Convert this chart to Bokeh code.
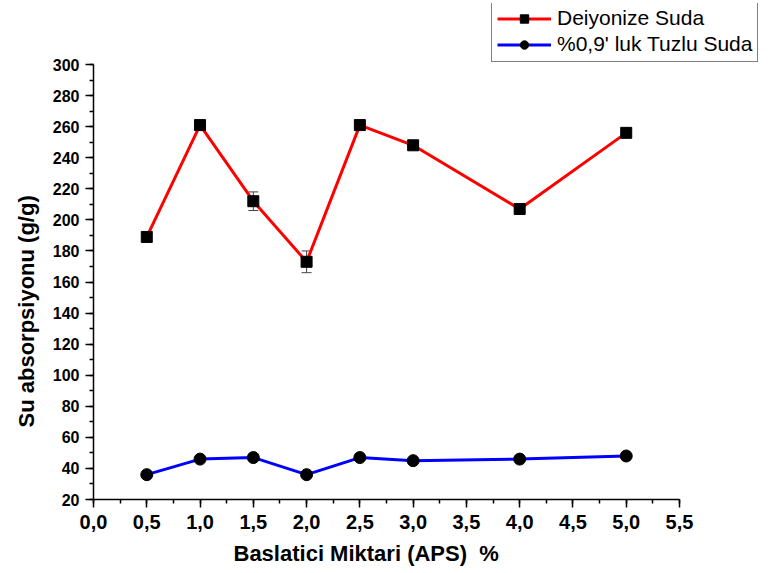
from bokeh.plotting import figure
from bokeh.models import (Range1d, FixedTicker, CustomJSTickFormatter, Legend, LegendItem,
                          ColumnDataSource, Whisker, TeeHead, Title)
from bokeh.embed import file_html
from bokeh.resources import INLINE

aps = [0.5, 1.0, 1.5, 2.0, 2.5, 3.0, 4.0, 5.0]
deiyonize = [189, 261, 212, 173, 261, 248, 207, 256]
deiyonize_err = [2, 1, 6, 7, 1, 1, 1, 1]
tuzlu = [36, 46, 47, 36, 47, 45, 46, 48]
x_ticks = [0.0, 0.5, 1.0, 1.5, 2.0, 2.5, 3.0, 3.5, 4.0, 4.5, 5.0, 5.5]
y_ticks = list(range(20, 301, 20))
x_title = "Baslatici Miktari (APS)\u00a0 %"
y_title = "Su absorpsiyonu (g/g)"
series_names = ["Deiyonize Suda", "%0,9' luk Tuzlu Suda"]

FONT = "Liberation Sans"

# frame extends beyond the axes (to hold the legend); axes are bounded to the data window
X0, X1, Y0, Y1 = 0.0, 5.5, 20.0, 300.0
AX_L, AX_R, AX_T, AX_B = 93, 679, 64, 499   # axis window in pixels
FR_R, FR_T = 772, 3                         # frame extents in pixels
x_end = X0 + (X1 - X0) * (FR_R - AX_L) / (AX_R - AX_L)
y_end = Y0 + (Y1 - Y0) * (AX_B - FR_T) / (AX_B - AX_T)

p = figure(width=774, height=573, output_backend="svg", toolbar_location=None,
           x_range=Range1d(X0, x_end), y_range=Range1d(Y0, y_end),
           min_border_left=AX_L, min_border_right=774 - FR_R, min_border_top=FR_T,
           min_border_bottom=573 - AX_B)
p.outline_line_color = None
p.xgrid.grid_line_color = None
p.ygrid.grid_line_color = None

p.xaxis.ticker = FixedTicker(ticks=x_ticks, minor_ticks=[i * 0.25 for i in range(23)])
p.yaxis.ticker = FixedTicker(ticks=y_ticks, minor_ticks=list(range(20, 301, 10)))
p.xaxis.formatter = CustomJSTickFormatter(code="return tick.toFixed(1).replace('.', ',');")
p.xaxis.bounds = (X0, X1)
p.yaxis.bounds = (Y0, Y1)
for ax in (p.xaxis[0], p.yaxis[0]):
    ax.axis_line_width = 1.5
    ax.major_tick_line_width = 1.5
    ax.minor_tick_line_width = 1.5
    ax.major_tick_out = 8
    ax.major_tick_in = 0
    ax.minor_tick_out = 4
    ax.minor_tick_in = 0
    ax.major_label_text_font = FONT
    ax.major_label_text_font_style = "bold"
    ax.major_label_text_color = "black"
p.xaxis.major_label_text_font_size = "20px"
p.yaxis.major_label_text_font_size = "16px"
p.xaxis.major_label_standoff = 7
p.yaxis.major_label_standoff = 6

xt = Title(text=x_title, align="left", offset=233 - AX_L, text_font=FONT, text_font_size="22px",
           text_font_style="bold", text_color="black", standoff=14)
p.add_layout(xt, "below")
yt = Title(text=y_title, align="left", offset=AX_B - 427, text_font=FONT, text_font_size="22px",
           text_font_style="bold", text_color="black", standoff=21)
p.add_layout(yt, "left")

src = ColumnDataSource(dict(x=aps, y=deiyonize,
                            lo=[v - e for v, e in zip(deiyonize, deiyonize_err)],
                            hi=[v + e for v, e in zip(deiyonize, deiyonize_err)],
                            t=tuzlu))

w = Whisker(source=src, base="x", lower="lo", upper="hi", line_color="#444444", line_width=1,
            lower_head=TeeHead(size=10, line_color="#444444", line_width=1),
            upper_head=TeeHead(size=10, line_color="#444444", line_width=1))
p.add_layout(w)

r1 = p.line("x", "y", source=src, line_color="#ff0000", line_width=3)
m1 = p.scatter("x", "y", source=src, marker="square", size=11, fill_color="black", line_color="black")
r2 = p.line("x", "t", source=src, line_color="#0000ff", line_width=3)
m2 = p.scatter("x", "t", source=src, marker="circle", size=12, fill_color="black", line_color="black")

legend = Legend(items=[LegendItem(label=series_names[0], renderers=[r1, m1]),
                       LegendItem(label=series_names[1], renderers=[r2, m2])],
                location=(491 - AX_L, AX_B - 62), border_line_color="black", border_line_width=1.5,
                label_text_font=FONT, label_text_font_size="21px", label_text_color="black",
                glyph_width=54, glyph_height=21, label_standoff=6, spacing=2,
                padding=5, margin=0, background_fill_alpha=1)
p.add_layout(legend, "center")

open("out.html", "w").write(file_html(p, INLINE))
